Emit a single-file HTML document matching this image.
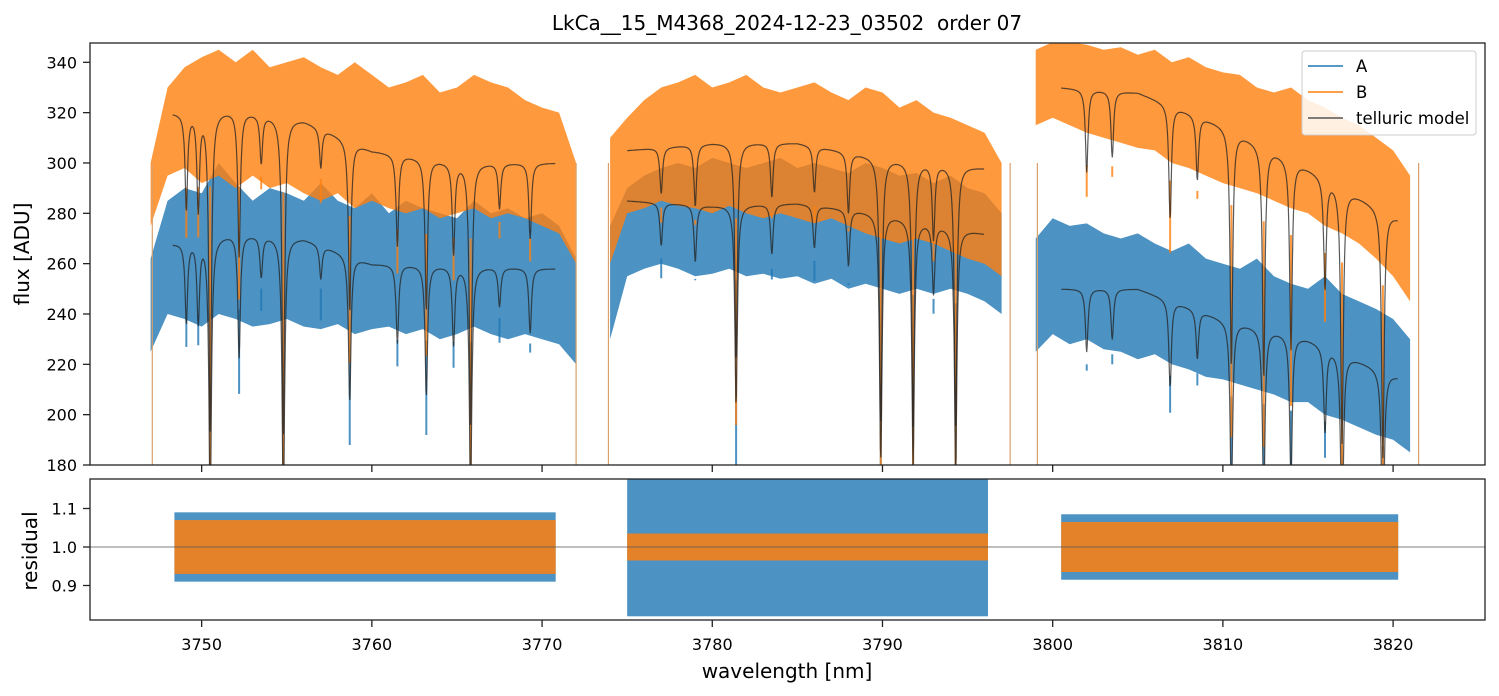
<!DOCTYPE html>
<html><head><meta charset="utf-8"><style>
body{margin:0;background:#fff;font-family:"Liberation Sans","DejaVu Sans",sans-serif}
svg{display:block}
text{font-family:"DejaVu Sans","Liberation Sans",sans-serif}
</style></head><body>
<svg id="chart" width="1499" height="696" viewBox="0 0 1499 696">
<text x="787" y="30" text-anchor="middle" font-size="20" xml:space="preserve">LkCa__15_M4368_2024-12-23_03502  order 07</text>
<defs>
<clipPath id="cTop"><rect x="90" y="43" width="1395" height="422"/></clipPath>
<clipPath id="cBot"><rect x="90" y="479" width="1395" height="141"/></clipPath>
</defs>
<g id="topMarks" clip-path="url(#cTop)"></g>
<g id="botMarks" clip-path="url(#cBot)"></g>
<g id="axes"></g>
<text x="29" y="254" transform="rotate(-90 29 254)" text-anchor="middle" font-size="20">flux [ADU]</text>
<text x="37" y="551" transform="rotate(-90 37 551)" text-anchor="middle" font-size="20">residual</text>
<text x="787" y="678" text-anchor="middle" font-size="20">wavelength [nm]</text>
<g>
<rect x="1302" y="51" width="174" height="84" rx="3" fill="#fff" fill-opacity="0.85" stroke="#ccc"/>
<line x1="1308" y1="66" x2="1343" y2="66" stroke="#1f77b4" stroke-width="1.5"/>
<text x="1356" y="72" font-size="16.5">A</text>
<line x1="1308" y1="92" x2="1343" y2="92" stroke="#ff7f0e" stroke-width="1.5"/>
<text x="1356" y="98" font-size="16.5">B</text>
<line x1="1308" y1="118" x2="1343" y2="118" stroke="#555" stroke-width="1.5"/>
<text x="1356" y="124" font-size="16.5">telluric model</text>
</g>
</svg>
<script>
const xTicks=[3750,3760,3770,3780,3790,3800,3810,3820];
const yTicksTop=[180,200,220,240,260,280,300,320,340];
const yTicksBot=[0.9,1.0,1.1];
const seg1X=[3747,3748,3749,3750,3751,3752,3753,3754,3755,3756,3757,3758,3759,3760,3761,3762,3763,3764,3765,3766,3767,3768,3769,3770,3771,3772];
const seg1AUp=[262,285,290,288,300,292,285,290,288,285,292,285,282,288,280,285,282,280,278,285,280,282,278,280,275,262];
const seg1ALo=[225,240,238,235,240,238,235,236,238,235,234,236,232,234,235,232,234,230,232,235,232,230,232,230,228,220];
const seg1BUp=[300,330,338,342,345,340,345,338,340,342,338,335,340,335,330,332,335,328,330,335,332,330,325,322,320,300];
const seg1BLo=[275,295,298,292,295,290,295,290,292,288,285,288,282,285,282,280,282,278,280,282,278,280,278,275,272,260];
const seg2X=[3774,3775,3776,3777,3778,3779,3780,3781,3782,3783,3784,3785,3786,3787,3788,3789,3790,3791,3792,3793,3794,3795,3796,3797];
const seg2AUp=[275,290,295,298,300,298,302,300,298,300,302,298,300,298,296,300,298,295,296,292,295,290,288,280];
const seg2ALo=[230,255,258,260,258,255,256,258,255,256,254,255,252,254,250,252,250,248,250,248,250,248,245,240];
const seg2BUp=[310,318,325,330,332,335,330,332,335,330,328,330,332,328,325,330,328,322,325,320,318,315,312,300];
const seg2BLo=[260,280,282,285,283,282,280,283,280,278,280,278,276,278,275,272,270,268,270,268,265,262,260,255];
const seg3X=[3799,3800,3801,3802,3803,3804,3805,3806,3807,3808,3809,3810,3811,3812,3813,3814,3815,3816,3817,3818,3819,3820,3821];
const seg3AUp=[270,278,275,276,272,270,272,268,265,268,262,260,258,262,255,252,250,255,248,245,242,238,230];
const seg3ALo=[225,232,228,230,226,225,222,224,220,218,215,214,212,210,208,205,205,200,198,195,192,190,185];
const seg3BUp=[345,348,348,347,345,346,343,345,340,342,338,336,335,330,328,330,325,322,318,315,310,305,295];
const seg3BLo=[315,318,315,312,310,308,306,305,300,298,295,292,290,288,285,282,280,275,272,268,262,255,245];
const edgeSpikeWl=[3747.1,3772.0,3773.9,3797.5,3799.1,3821.5];
const modelSegX=[[3748.3,3752,3756,3760,3765,3770.8],[3775,3780,3785,3790,3796],[3800.5,3805,3810,3815,3820.3]];
const modelA=[[268,272,270,260,259,258],[285,283,284,280,272],[250,250,238,230,215]];
const modelB=[[320,321,317,305,300,300],[305,308,308,302,298],[330,328,315,298,278]];
const dipWl=[3749.1,3749.8,3750.5,3752.2,3753.5,3754.8,3757,3758.7,3761.5,3763.2,3764.8,3765.8,3767.5,3769.3,3777,3779,3781.4,3783.5,3786,3788,3789.9,3791.8,3793,3794.3,3802,3803.5,3806.9,3808.5,3810.5,3812.4,3814,3816,3817,3819.4];
const dipDepth=[0.12,0.12,0.4,0.18,0.06,0.4,0.05,0.22,0.12,0.2,0.12,0.35,0.06,0.1,0.06,0.08,0.28,0.07,0.06,0.08,0.35,0.35,0.1,0.35,0.1,0.08,0.14,0.08,0.3,0.3,0.25,0.15,0.35,0.35];
const resSegStart=[3748.4,3775,3800.5];
const resSegEnd=[3770.8,3796.2,3820.3];
const resHalfA=[0.09,0.18,0.085];
const resHalfB=[0.07,0.035,0.065];

const NS='http://www.w3.org/2000/svg';
const X0=90,X1=1485,WL0=3743.44,WL1=3825.40;
const xs=w=>X0+(w-WL0)/(WL1-WL0)*(X1-X0);
const yT=v=>465-(v-180)*(402.7/160);
const yB=v=>547-(v-1)*385;
function mk(tag,attrs,parent){const e=document.createElementNS(NS,tag);for(const k in attrs)e.setAttribute(k,attrs[k]);parent.appendChild(e);return e;}
const topG=document.getElementById('topMarks'),botG=document.getElementById('botMarks'),ax=document.getElementById('axes');

function band(xArr,up,lo,color,name){
  let d='';
  xArr.forEach((w,i)=>{d+=(i?'L':'M')+xs(w).toFixed(1)+','+yT(up[i]).toFixed(1);});
  for(let i=xArr.length-1;i>=0;i--)d+='L'+xs(xArr[i]).toFixed(1)+','+yT(lo[i]).toFixed(1);
  const p=mk('path',{d:d+'Z',fill:color,'fill-opacity':0.8},topG);
  
  
}
band(seg1X,seg1AUp,seg1ALo,'#1f77b4','series-a-seg1');
band(seg2X,seg2AUp,seg2ALo,'#1f77b4','series-a-seg2');
band(seg3X,seg3AUp,seg3ALo,'#1f77b4','series-a-seg3');
band(seg1X,seg1BUp,seg1BLo,'#ff7f0e','series-b-seg1');
band(seg2X,seg2BUp,seg2BLo,'#ff7f0e','series-b-seg2');
band(seg3X,seg3BUp,seg3BLo,'#ff7f0e','series-b-seg3');
edgeSpikeWl.forEach(w=>{
  const l=mk('line',{x1:xs(w),x2:xs(w),y1:yT(180),y2:yT(300),stroke:'#d9a06b','stroke-width':1.2},topG);
  
  
});

function interp(xa,ya,w){for(let i=0;i<xa.length-1;i++){if(w<=xa[i+1]){const t=(w-xa[i])/(xa[i+1]-xa[i]);return ya[i]+t*(ya[i+1]-ya[i]);}}return ya[ya.length-1];}
function absorb(w){let f=1;dipWl.forEach((c,i)=>{const g=0.09;const u=(w-c)/g;f*=1-dipDepth[i]/(1+u*u);});return f;}
function dipSpikes(color,cont){
  dipWl.forEach((c,i)=>{
    for(let s=0;s<3;s++){if(c>=modelSegX[s][0]-0.5&&c<=modelSegX[s][modelSegX[s].length-1]+0.5){
      const base=interp(modelSegX[s],cont[s],c);
      const l=mk('line',{x1:xs(c),x2:xs(c),y1:yT(base-30),y2:yT(base*(1-dipDepth[i]*1.3)),stroke:color,'stroke-width':2,'stroke-opacity':0.8},topG);
      
      
    }}
  });
}
dipSpikes('#1f77b4',modelA);
dipSpikes('#ff7f0e',modelB);
function modelLine(cont,name){
  for(let s=0;s<3;s++){
    const xa=modelSegX[s];let d='';
    for(let w=xa[0];w<=xa[xa.length-1];w+=0.03){d+=(d?'L':'M')+xs(w).toFixed(1)+','+yT(interp(xa,cont[s],w)*absorb(w)).toFixed(1);}
    const p=mk('path',{d:d,fill:'none',stroke:'#222','stroke-opacity':0.75,'stroke-width':1.2},topG);
    
    
  }
}
modelLine(modelA,'telluric-model-a');
modelLine(modelB,'telluric-model-b');

for(let s=0;s<3;s++){
  const ra=mk('rect',{x:xs(resSegStart[s]),y:yB(1+resHalfA[s]),width:xs(resSegEnd[s])-xs(resSegStart[s]),height:yB(1-resHalfA[s])-yB(1+resHalfA[s]),fill:'#1f77b4','fill-opacity':0.8},botG);
  
  
  const rb=mk('rect',{x:xs(resSegStart[s]),y:yB(1+resHalfB[s]),width:xs(resSegEnd[s])-xs(resSegStart[s]),height:yB(1-resHalfB[s])-yB(1+resHalfB[s]),fill:'#ff7f0e','fill-opacity':0.85},botG);
  
  
}
const hl=mk('line',{x1:X0,x2:X1,y1:yB(1),y2:yB(1),stroke:'#555','stroke-width':0.8},botG);



const f1=mk('rect',{x:X0,y:43,width:X1-X0,height:422,fill:'none',stroke:'#222','stroke-width':1.3},ax);


const f2=mk('rect',{x:X0,y:479,width:X1-X0,height:141,fill:'none',stroke:'#222','stroke-width':1.3},ax);


xTicks.forEach(t=>{
  const x=xs(t);
  mk('line',{x1:x,x2:x,y1:465,y2:472,stroke:'#222','stroke-width':1.3},ax);
  mk('line',{x1:x,x2:x,y1:620,y2:627,stroke:'#222','stroke-width':1.3},ax);
  const tx=mk('text',{x:x,y:650,'text-anchor':'middle','font-size':16},ax);
  tx.textContent=t;
  
  
});
yTicksTop.forEach(t=>{
  const y=yT(t);
  mk('line',{x1:X0-7,x2:X0,y1:y,y2:y,stroke:'#222','stroke-width':1.3},ax);
  const tx=mk('text',{x:X0-13,y:y+6,'text-anchor':'end','font-size':16},ax);
  tx.textContent=t;
  
  
});
yTicksBot.forEach(t=>{
  const y=yB(t);
  mk('line',{x1:X0-7,x2:X0,y1:y,y2:y,stroke:'#222','stroke-width':1.3},ax);
  const tx=mk('text',{x:X0-13,y:y+6,'text-anchor':'end','font-size':16},ax);
  tx.textContent=t.toFixed(1);
  
  
});
</script>
</body></html>
